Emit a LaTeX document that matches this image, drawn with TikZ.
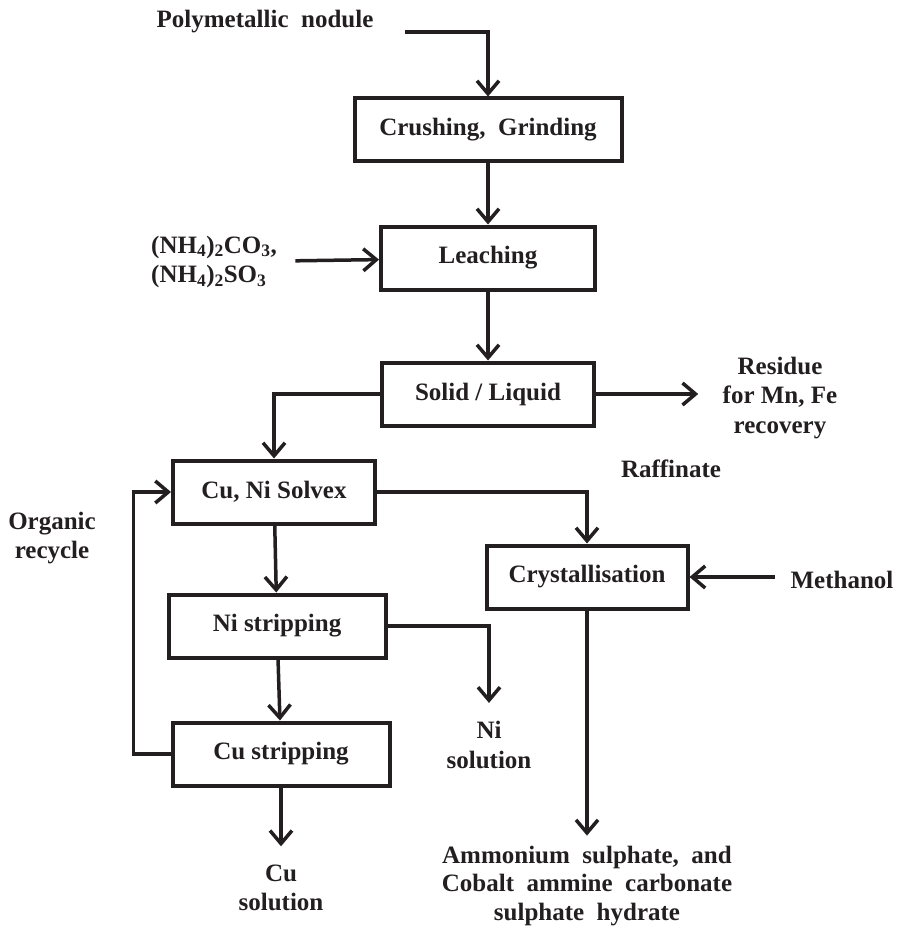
\documentclass[tikz,border=0pt]{standalone}
\usepackage{fontspec}
\setmainfont{Liberation Serif}
\usetikzlibrary{positioning,arrows.meta}
\definecolor{ink}{HTML}{231F20}
\tikzset{
>={Straight Barb[length=13pt,width=22pt]}, % open arrow heads
every node/.style={font=\fontsize{25}{29.5}\selectfont\bfseries,align=center,text=ink},
on grid, % distances are measured between node centres
}

\begin{document}
\begin{tikzpicture}[proc/.style={rectangle, draw=ink, line width=4pt, minimum height=63pt},
                    flow/.style={->, draw=ink, line width=3.5pt}]
   \useasboundingbox (0,0) rectangle (896pt,-928pt);
   % process boxes
   \node[proc, minimum width=267pt] (crush) at (488pt,-130pt) {Crushing,\ \ Grinding};
   \node[proc, minimum width=214pt] (leach)   [below=128pt of crush] {Leaching};
   \node[proc, minimum width=212pt] (solid)   [below=136pt of leach] {Solid / Liquid};
   \node[proc, minimum width=202pt] (solvex)  [below left=98pt and 214pt of solid] {Cu, Ni Solvex};
   \node[proc, minimum width=201pt] (cryst)   [below right=85pt and 313pt of solvex] {Crystallisation};
   \node[proc, minimum width=217pt] (nistrip) [below right=134pt and 3pt of solvex] {Ni stripping};
   \node[proc, minimum width=217pt] (custrip) [below right=128pt and 4pt of nistrip] {Cu stripping};
   % feeds and products
   \node (nodule)    [above left=108pt and 223pt of crush] {Polymetallic\ \ nodule};
   \node (ammon)     [below left=4pt and 274pt of leach, align=left]
      {(NH\textsubscript{4})\textsubscript{2}CO\textsubscript{3},\\(NH\textsubscript{4})\textsubscript{2}SO\textsubscript{3}};
   \node (residue)   [below right=4pt and 292pt of solid] {Residue\\for Mn, Fe\\recovery};
   \node (raffinate) [below right=75pt and 183pt of solid] {Raffinate};
   \node (methanol)  [below right=3pt and 255pt of cryst] {Methanol};
   \node (organic)   [below left=46pt and 222pt of solvex] {Organic\\recycle};
   \node (nisol)     [below right=119pt and 212pt of nistrip] {Ni\\solution};
   \node (cusol)     [below=134pt of custrip] {Cu\\solution};
   \node (product)   [below=309pt of cryst, font=\fontsize{25}{28.5}\selectfont\bfseries]
      {Ammonium\ \ sulphate,\ \ and\\Cobalt\ \ ammine\ \ carbonate\\sulphate\ \ hydrate};
   \coordinate (feed) at ([xshift=28pt,yshift=-10pt]nodule.east);

   \draw[flow] (feed) -| (crush);
   \path[flow]
    (crush)   edge (leach)
    (leach)   edge (solid)
    (solvex)  edge (nistrip)
    (nistrip) edge (custrip);
   \draw[flow, shorten <=15pt] (ammon) -- (leach);
   \draw[flow, shorten >=21pt] (solid.east) -- (solid.east -| residue.west);
   \draw[flow] (solid) -| (solvex);
   \draw[flow] (solvex) -| (cryst);
   \draw[flow, shorten <=12pt] (methanol.west |- cryst.east) -- (cryst);
   \draw[flow, shorten >=15pt] (nistrip) -| (nisol);
   \draw[flow] (custrip.west) -- ++(-37pt,0) |- (solvex.west);
   \draw[flow, shorten >=15pt] (custrip) -- (cusol);
   \draw[flow, shorten >=7pt] (cryst) -- (product);
\end{tikzpicture}
\end{document}
